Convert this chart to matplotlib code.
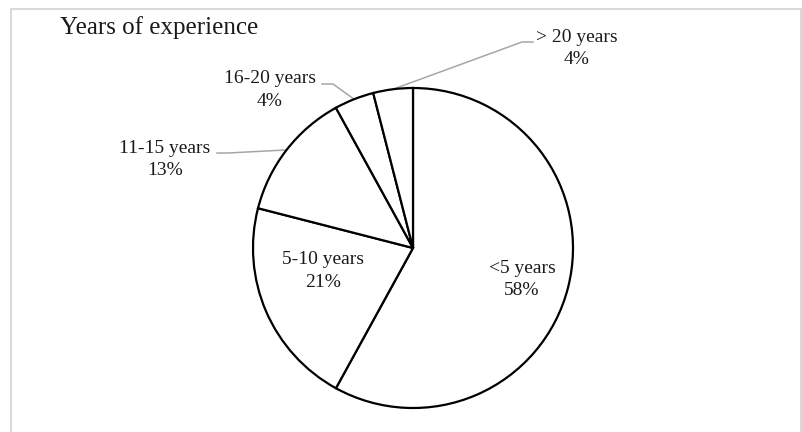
import numpy as np
import matplotlib.pyplot as plt
from matplotlib.lines import Line2D

plt.rcParams['font.family'] = ['Liberation Serif', 'DejaVu Serif']

# Survey answers
categories = ['<5 years', '5-10 years', '11-15 years', '16-20 years', '> 20 years']
shares = [58, 21, 13, 4, 4]

W, H = 802, 432
fig = plt.figure(figsize=(W / 100, H / 100), dpi=100)
ax = fig.add_axes([0, 0, 1, 1])

center = (413, H - 248)
radius = 160
wedges, _ = ax.pie(shares, startangle=90, counterclock=False,
                   center=center, radius=radius,
                   wedgeprops=dict(facecolor='white', edgecolor='black', linewidth=1.6))

# label placement in pixels (x, y from top), plus optional leader elbow
label_pos = [(522, 279.5), (323, 271), (165, 159.5), (269.5, 90), (577, 48.5)]
elbows = [None, None, ((228, 153), (217, 153)), ((333, 84), (322, 84)), ((522, 42), (533, 42))]

for w, name, pct, (lx, ly), elb in zip(wedges, categories, shares, label_pos, elbows):
    ax.text(lx, H - ly, f"{name}\n{pct}%", ha='center', va='center',
            fontsize=14, linespacing=1.4, color='#1a1a1a')
    if elb is not None:
        mid = np.radians((w.theta1 + w.theta2) / 2)
        x0 = center[0] + radius * np.cos(mid)
        y0 = center[1] + radius * np.sin(mid)
        xs = [x0, elb[0][0], elb[1][0]]
        ys = [y0, H - elb[0][1], H - elb[1][1]]
        ax.plot(xs, ys, color='#a6a6a6', lw=1.1, zorder=0.5)

ax.text(60, H - 28, 'Years of experience', ha='left', va='center', fontsize=18, color='#1a1a1a')

ax.set_xlim(0, W)
ax.set_ylim(0, H)
ax.set_aspect('equal')
ax.axis('off')

# light frame around the chart area (open at the bottom)
fig.add_artist(Line2D([11 / W, 11 / W, 801 / W, 801 / W],
                      [-0.05, 1 - 8.5 / H, 1 - 8.5 / H, -0.05],
                      transform=fig.transFigure, color='#d9d9d9', lw=1.5))

fig.savefig('out.png', dpi=100, facecolor='white')
